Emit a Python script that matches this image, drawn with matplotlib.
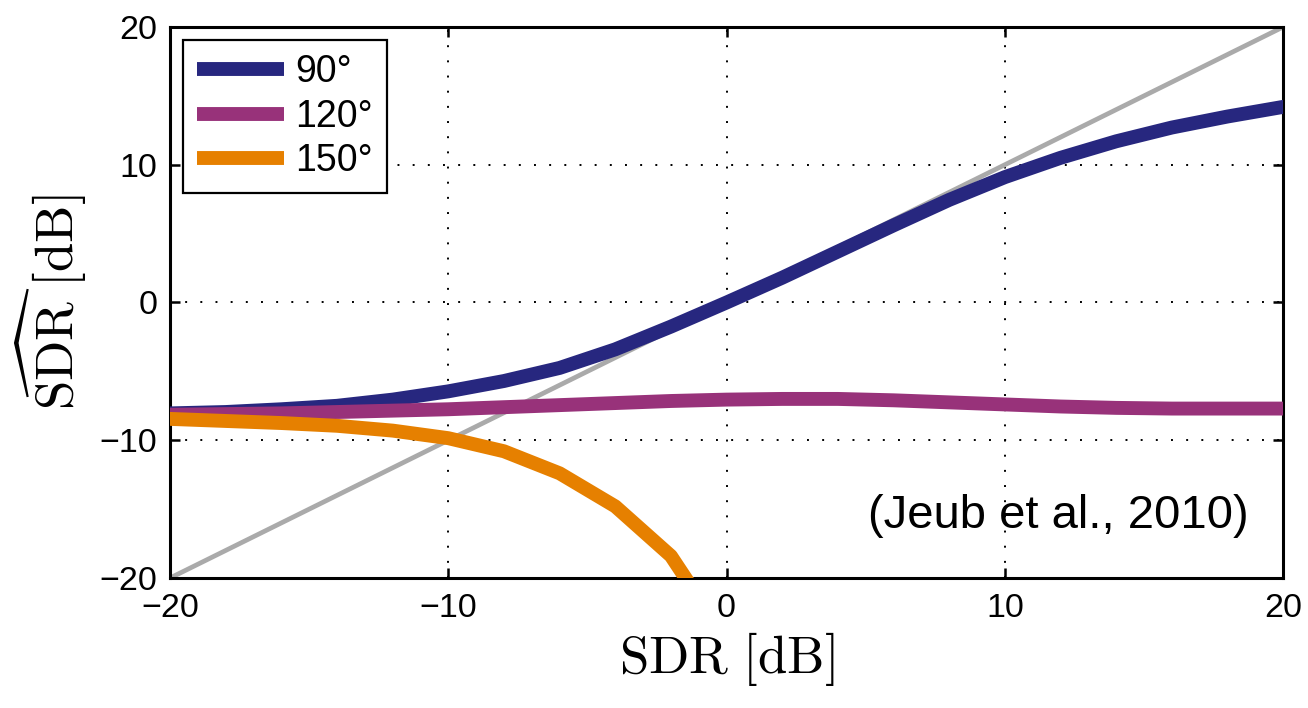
import numpy as np
import matplotlib
matplotlib.use("Agg")
import matplotlib.pyplot as plt

plt.rcParams["font.family"] = ["Liberation Sans", "DejaVu Sans"]
plt.rcParams["mathtext.fontset"] = "cm"

# SDR axis (dB)
sdr = [-20, -18, -16, -14, -12, -10, -8, -6, -4, -2, 0, 2, 4, 6, 8, 10, 12, 14, 16, 18, 20]
est_90 = [-8.05, -7.95, -7.75, -7.5, -7.05, -6.45, -5.7, -4.75, -3.4, -1.75, 0.0,
          1.8, 3.7, 5.6, 7.45, 9.1, 10.5, 11.7, 12.7, 13.5, 14.2]
est_120 = [-8.15, -8.1, -8.05, -7.95, -7.85, -7.75, -7.6, -7.45, -7.3, -7.15, -7.05,
           -7.0, -7.0, -7.1, -7.25, -7.4, -7.55, -7.65, -7.7, -7.7, -7.7]
sdr_150 = [-20, -18, -16, -14, -12, -10, -8, -6, -4, -2, 0]
est_150 = [-8.45, -8.6, -8.75, -8.95, -9.3, -9.85, -10.8, -12.4, -14.8, -18.4, -24.5]
diag = [-20, 20]

labels = ["90°", "120°", "150°"]
colors = ["#27277f", "#98327a", "#e68000"]

fig = plt.figure(figsize=(13.08, 7.08), dpi=100)
ax = fig.add_axes([0.130, 0.1836, 0.851, 0.7783])

ax.plot(diag, diag, color="#aaaaaa", lw=3.4, zorder=2)
ax.plot(sdr, est_90, color=colors[0], lw=10, label=labels[0], zorder=3)
ax.plot(sdr, est_120, color=colors[1], lw=10, label=labels[1], zorder=4)
ax.plot(sdr_150, est_150, color=colors[2], lw=10, label=labels[2], zorder=5)

ax.set_xlim(-20, 20)
ax.set_ylim(-20, 20)
ax.set_xticks([-20, -10, 0, 10, 20])
ax.set_yticks([-20, -10, 0, 10, 20])
ax.grid(True, color="black", lw=1.4, linestyle=(0, (1, 6.8)))
ax.tick_params(direction="in", length=7, width=1.8, top=True, right=True,
               labelsize=24.5)
ax.tick_params(axis="x", pad=11)
ax.tick_params(axis="y", pad=9)
for s in ax.spines.values():
    s.set_linewidth(2.2)

ax.set_xlabel(r"$\mathrm{SDR}\ [\mathrm{dB}]$", fontsize=38, labelpad=4)
ax.set_ylabel(r"$\widehat{\mathrm{SDR}}\ [\mathrm{dB}]$", fontsize=38, labelpad=8)

ax.text(0.969, 0.09, "(Jeub et al., 2010)", transform=ax.transAxes,
        ha="right", va="baseline", fontsize=34)

leg = ax.legend(loc="upper left", bbox_to_anchor=(0.0117, 0.976), fontsize=27,
                frameon=True, fancybox=False, edgecolor="black", framealpha=1,
                handlelength=2.3, handletextpad=0.3, labelspacing=0.22,
                borderpad=0.38, borderaxespad=0)
leg.get_frame().set_linewidth(1.6)
for line in leg.get_lines():
    line.set_linewidth(10)
    line.set_solid_capstyle("butt")

fig.savefig("out.png", dpi=100)
